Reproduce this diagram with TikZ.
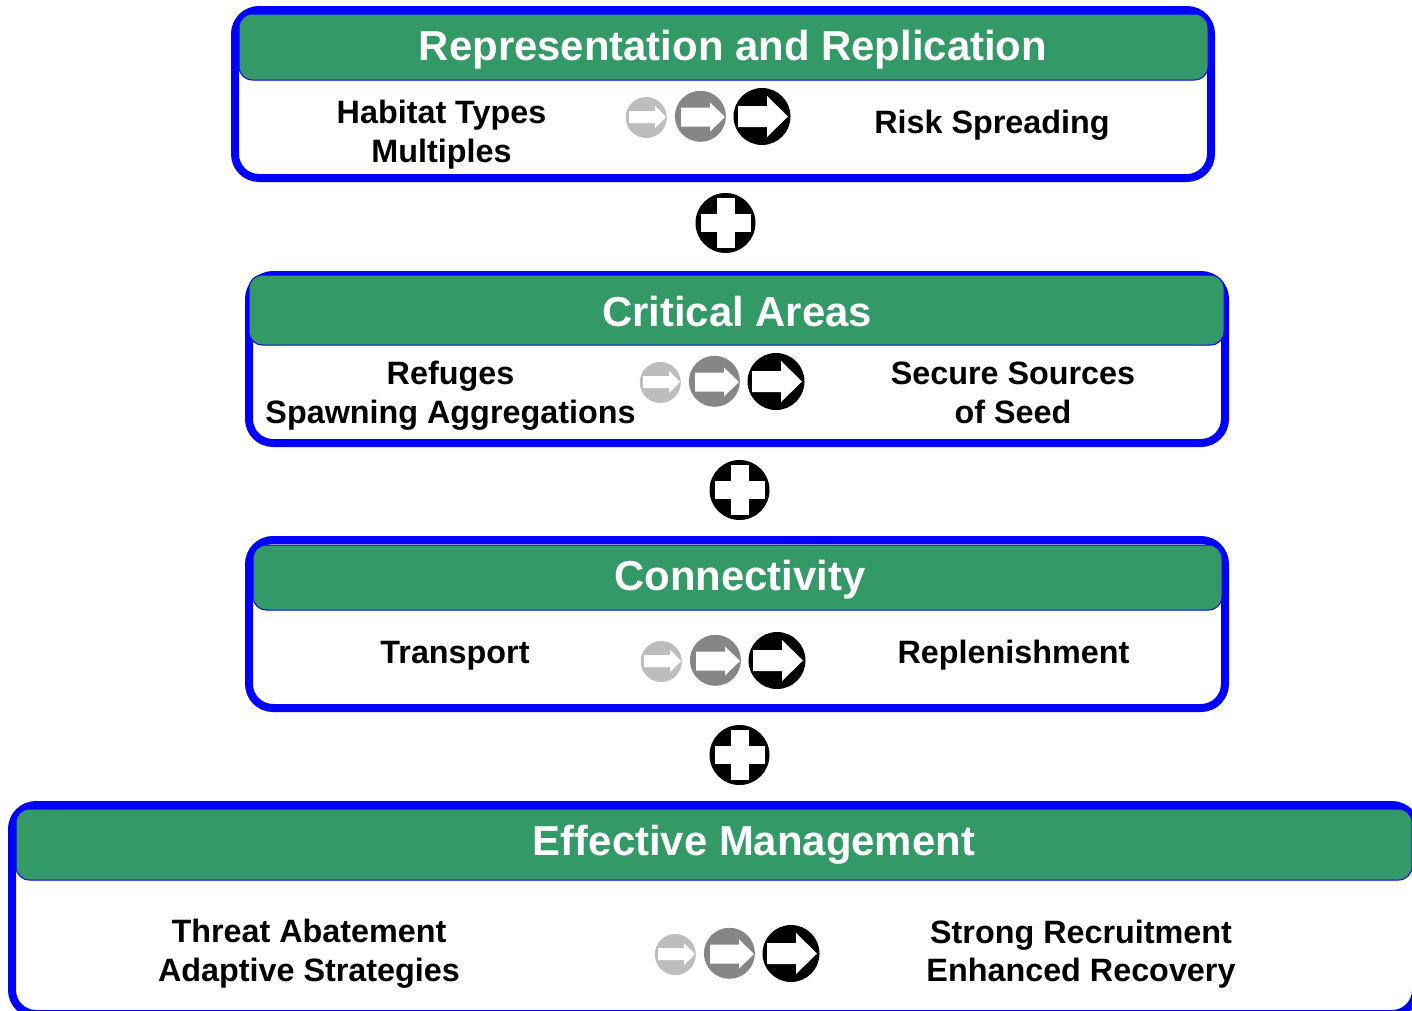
\documentclass[tikz,border=0pt]{standalone}
\usepackage{fontspec}
\setmainfont{Liberation Sans}
\definecolor{headgreen}{HTML}{339966}
\definecolor{discmid}{HTML}{868686}
\definecolor{disclight}{HTML}{BDBDBD}
\begin{document}
\begin{tikzpicture}[x=0.75pt, y=-0.75pt, font=\bfseries]
    \useasboundingbox (0,0) rectangle (1412,1010);
    \clip (0,0) rectangle (1412,1010);

    \tikzset{
        panel/.style = {draw=blue, line width=6pt, fill=white, rounded corners=18pt},
        head/.style = {draw=blue, line width=0.75pt, fill=headgreen, rounded corners=10pt},
        title/.style = {text=white, font=\fontsize{31.4}{36}\bfseries\selectfont},
        body/.style = {align=center, font=\fontsize{24.25}{29}\bfseries\selectfont},
        disc/.style = {circle, inner sep=0pt, minimum size=#1*0.75pt},
    }

    % panels: left/top/right/bottom of outline, then of green band
    \foreach \xa/\ya/\xb/\yb/\hxa/\hya/\hxb/\hyb in {
            235/10/1211/178/239/14/1208/80,
            249/275/1225/443/249/275/1224/345,
            249/540/1225/708/253/545/1222/610,
            12/805/1416/1014/16/809/1412/880}{
            \draw[panel] (\xa,\ya) rectangle (\xb,\yb);
            \draw[head] (\hxa,\hya) rectangle (\hxb,\hyb);
        }

    \node[title] (titlerep) at (733,50) {Representation and Replication};
    \node[title] (titlecrit) at (737,312) {Critical Areas};
    \node[title] (titleconn) at (740,580) {Connectivity};
    \node[title] (titlemgmt) at (754,845) {Effective Management};

    \node[body] (habitat) at (441.5,134.5) {Habitat Types\\Multiples};
    \node[body] (risk) at (992,125) {Risk Spreading};
    \node[body] (refuges) at (450.5,396) {Refuges\\Spawning Aggregations};
    \node[body] (seed) at (1013,393) {Secure Sources\\of Seed};
    \node[body] (transport) at (455,656) {Transport};
    \node[body] (replen) at (1013.5,655) {Replenishment};
    \node[body] (threat) at (309,954) {Threat Abatement\\Adaptive Strategies};
    \node[body] (recruit) at (1081,954) {Strong Recruitment\\Enhanced Recovery};

    % three discs with a white arrow, one set per panel
    \foreach \dx/\dy in {0/0, 14/265, 15/544, 29/837}{
            \begin{scope}[shift={(\dx,\dy)}]
                \node[disc=41, fill=disclight] (light\dy) at (646.3,117.5) {};
                \fill[white] (629,111) -- (655,111) -- (655,106) -- (666,117) -- (655,128) -- (655,123) -- (629,123) -- cycle;
                \node[disc=51, fill=discmid] (mid\dy) at (700.4,116.3) {};
                \fill[white] (681,107.5) -- (710,107.5) -- (710,102.5) -- (725,117) -- (710,131.5) -- (710,126.5) -- (681,126.5) -- cycle;
                \node[disc=57, fill=black] (dark\dy) at (762,116.5) {};
                \fill[white] (738,106) -- (767,106) -- (767,96) -- (788,116.5) -- (767,137) -- (767,127) -- (738,127) -- cycle;
            \end{scope}
        }

    % plus signs between the panels
    \foreach \x/\y in {725.5/223, 739.5/490, 739.5/755}{
            \node[disc=60, fill=black] (plus\y) at (\x,\y) {};
            \fill[white] (\x-9,\y-25) rectangle (\x+9,\y+25);
            \fill[white] (\x-25,\y-9) rectangle (\x+25,\y+9);
        }

\end{tikzpicture}
\end{document}
